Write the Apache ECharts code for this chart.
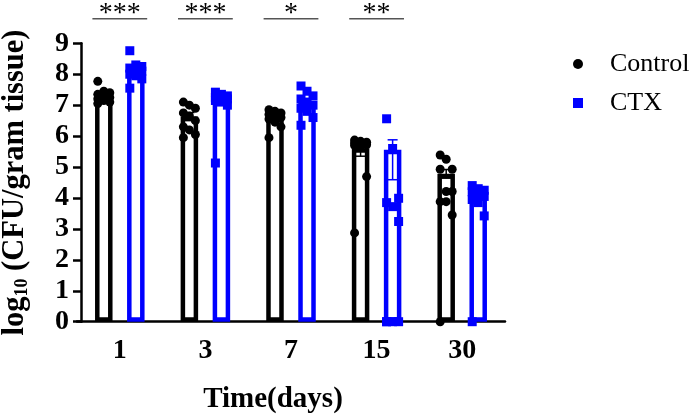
<!DOCTYPE html>
<html>
<head>
<meta charset="utf-8">
<title>log10 CFU</title>
<script src="https://cdn.jsdelivr.net/npm/echarts@6/dist/echarts.min.js"></script>
<style>
  html, body { margin: 0; padding: 0; background: #fff; }
  #chart { width: 689px; height: 414px; }
</style>
</head>
<body>
<div id="chart"></div>
<script>
// time points (days)
var categories = ['1', '3', '7', '15', '30']

// bar heights
var ctrlMean = [7.25, 6.63, 6.6, 5.61, 4.78]
var ctxMean = [8.15, 7.25, 7.07, 5.56, 4.2]

// error bar ends
var ctrlErrLow = [7.17, 6.5, 6.5, 5.35, 4.64]
var ctrlErrHigh = [7.33, 6.76, 6.7, 5.87, 4.92]
var ctxErrLow = [8.05, 7.05, 6.95, 4.59, 4.08]
var ctxErrHigh = [8.25, 7.4, 7.19, 5.88, 4.32]

// individual animals, one list per time point
var ctrlPoints = [
  [7.77, 7.45, 7.4, 7.35, 7.3, 7.25, 7.2, 7.15, 7.1, 7.05],
  [7.1, 7.0, 6.9, 6.75, 6.65, 6.5, 6.3, 6.2, 6.05, 5.95],
  [6.85, 6.8, 6.75, 6.7, 6.65, 6.6, 6.55, 6.45, 6.3, 5.95],
  [5.87, 5.83, 5.8, 5.78, 5.75, 5.72, 5.7, 5.65, 4.69, 2.87],
  [5.39, 5.25, 4.93, 4.93, 4.21, 4.21, 3.88, 3.88, 3.45, 0]
]
var ctxPoints = [
  [8.76, 8.3, 8.25, 8.2, 8.15, 8.1, 8.0, 7.95, 7.85, 7.55],
  [7.42, 7.35, 7.3, 7.25, 7.2, 7.2, 7.15, 7.1, 7.0, 5.13],
  [7.62, 7.45, 7.3, 7.2, 7.1, 7.0, 6.9, 6.8, 6.6, 6.35],
  [6.56, 5.6, 3.99, 3.85, 3.72, 3.24, 0, 0, 0, 0],
  [4.4, 4.3, 4.25, 4.2, 4.1, 4.05, 3.95, 3.85, 3.42, 0]
]

// significance marks above each pair
var sigLabels = ['***', '***', '*', '**']
var sigLevel = 9.79

var yTicks = [0, 9, 1]   // min, max, step

var FONT = '"Liberation Serif", "Times New Roman", serif'
var BLUE = '#0000ff'
var BLACK = '#000000'

var barW = 17.5
var barGapPct = 0.83
var shift = barW * (1 + barGapPct) / 2   // distance from category centre to each bar centre

function pointData(groups, dx) {
  var out = []
  groups.forEach(function (vals, i) {
    vals.forEach(function (v, j) {
      out.push({ value: [i, v], symbolOffset: [dx + ((j % 3) - 1) * 6, 0] })
    })
  })
  return out
}

function errData(low, high) {
  return low.map(function (l, i) { return [i, l, high[i]] })
}

function errorBarItem(dx, color) {
  return function (params, api) {
    var i = api.value(0)
    var lo = api.coord([i, api.value(1)])
    var hi = api.coord([i, api.value(2)])
    var cx = lo[0] + dx
    var cap = 5
    var st = { stroke: color, lineWidth: 1.5 }
    return {
      type: 'group',
      children: [
        { type: 'line', shape: { x1: cx, y1: hi[1], x2: cx, y2: lo[1] }, style: st },
        { type: 'line', shape: { x1: cx - cap, y1: hi[1], x2: cx + cap, y2: hi[1] }, style: st },
        { type: 'line', shape: { x1: cx - cap, y1: lo[1], x2: cx + cap, y2: lo[1] }, style: st }
      ]
    }
  }
}

function sigItem(params, api) {
  var p = api.coord([api.value(0), api.value(1)])
  var half = api.size([1, 0])[0] * 0.32
  return {
    type: 'group',
    children: [
      {
        type: 'line',
        shape: { x1: p[0] - half, y1: p[1], x2: p[0] + half, y2: p[1] },
        style: { stroke: '#555', lineWidth: 1.5 }
      },
      {
        type: 'text',
        x: p[0],
        y: p[1] - 19,
        style: {
          text: sigLabels[params.dataIndex],
          fill: BLACK,
          fontSize: 28,
          fontFamily: FONT,
          align: 'center',
          verticalAlign: 'top'
        }
      }
    ]
  }
}

var chart = echarts.init(document.getElementById('chart'))

var option = {
  animation: false,
  backgroundColor: '#fff',
  grid: {
    left: 77,
    right: 184,
    top: 43.3,
    bottom: 92.3,
    outerBoundsMode: 'none'
  },
  legend: {
    orient: 'vertical',
    left: 568,
    top: 46,
    itemWidth: 10,
    itemHeight: 10,
    itemGap: 13,
    selectedMode: false,
    data: [
      { name: 'Control', icon: 'circle' },
      { name: 'CTX', icon: 'rect' }
    ],
    textStyle: {
      fontFamily: FONT,
      fontSize: 26,
      lineHeight: 26,
      color: BLACK,
      padding: [0, 0, 0, 22]
    }
  },
  xAxis: {
    type: 'category',
    data: categories,
    name: 'Time(days)',
    nameLocation: 'middle',
    nameGap: 63,
    nameTextStyle: {
      fontFamily: FONT,
      fontWeight: 'bold',
      fontSize: 29,
      color: BLACK,
      padding: [0, 36, 0, 0]
    },
    axisLine: { lineStyle: { color: BLACK, width: 2.5 } },
    axisTick: { alignWithLabel: true, length: 10, lineStyle: { color: BLACK, width: 2.5 } },
    axisLabel: {
      margin: 15,
      fontFamily: FONT,
      fontWeight: 'bold',
      fontSize: 28,
      color: BLACK
    },
    splitLine: { show: false }
  },
  yAxis: {
    type: 'value',
    min: yTicks[0],
    max: yTicks[1],
    interval: yTicks[2],
    offset: -4,
    name: '{a|log}{s|10}{a| (CFU/gram tissue)}',
    nameLocation: 'middle',
    nameGap: 50,
    nameTextStyle: {
      color: BLACK,
      rich: {
        a: { fontFamily: FONT, fontWeight: 'bold', fontSize: 30.5, color: BLACK },
        s: { fontFamily: FONT, fontWeight: 'bold', fontSize: 18, color: BLACK, verticalAlign: 'bottom', padding: [10, 0, 0, 0] }
      }
    },
    axisLine: { show: true, lineStyle: { color: BLACK, width: 2.5 } },
    axisTick: { show: true, length: 8, lineStyle: { color: BLACK, width: 2.5 } },
    axisLabel: {
      margin: 12,
      fontFamily: FONT,
      fontWeight: 'bold',
      fontSize: 28,
      color: BLACK
    },
    splitLine: { show: false }
  },
  series: [
    {
      name: 'Control bar',
      type: 'bar',
      data: ctrlMean,
      barWidth: barW,
      barGap: (barGapPct * 100) + '%',
      z: 2,
      silent: true,
      itemStyle: { color: '#fff', borderColor: BLACK, borderWidth: 4.5 }
    },
    {
      name: 'CTX bar',
      type: 'bar',
      data: ctxMean,
      barWidth: barW,
      barGap: (barGapPct * 100) + '%',
      z: 2,
      silent: true,
      itemStyle: { color: '#fff', borderColor: BLUE, borderWidth: 4.5 }
    },
    {
      name: 'Control',
      type: 'scatter',
      data: pointData(ctrlPoints, -shift),
      symbol: 'circle',
      symbolSize: 9,
      clip: false,
      z: 3,
      itemStyle: { color: BLACK, opacity: 1 }
    },
    {
      name: 'CTX',
      type: 'scatter',
      data: pointData(ctxPoints, shift),
      symbol: 'rect',
      symbolSize: 9,
      clip: false,
      z: 3,
      itemStyle: { color: BLUE, opacity: 1 }
    },
    {
      name: 'Control err',
      type: 'custom',
      data: errData(ctrlErrLow, ctrlErrHigh),
      encode: { x: 0, y: [1, 2] },
      renderItem: errorBarItem(-shift, BLACK),
      z: 4,
      silent: true
    },
    {
      name: 'CTX err',
      type: 'custom',
      data: errData(ctxErrLow, ctxErrHigh),
      encode: { x: 0, y: [1, 2] },
      renderItem: errorBarItem(shift, BLUE),
      z: 4,
      silent: true
    },
    {
      name: 'sig',
      type: 'custom',
      data: sigLabels.map(function (s, i) { return [i, sigLevel] }),
      encode: { x: 0, y: 1 },
      renderItem: sigItem,
      clip: false,
      z: 5,
      silent: true
    }
  ]
}

chart.setOption(option)
</script>
</body>
</html>
